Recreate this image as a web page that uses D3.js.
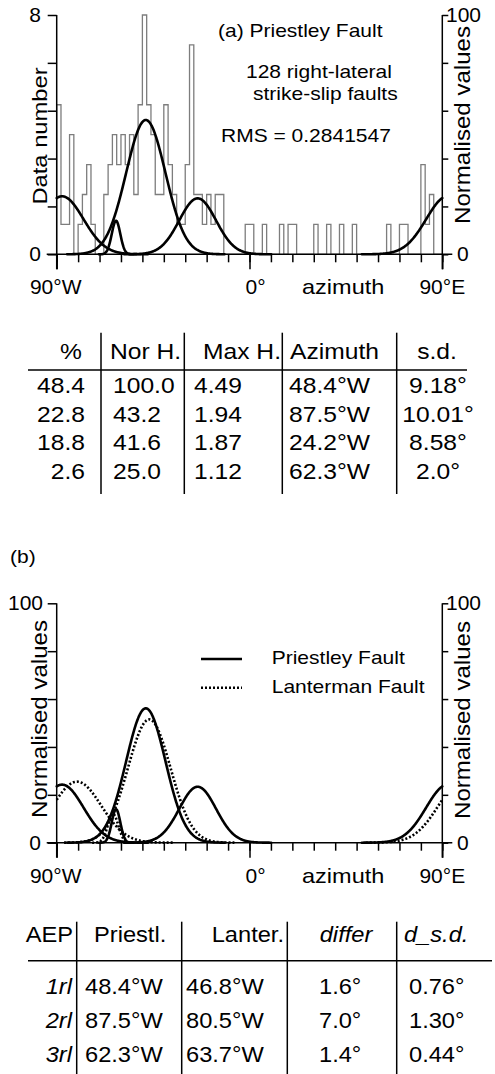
<!DOCTYPE html>
<html>
<head>
<meta charset="utf-8">
<script src="https://cdn.jsdelivr.net/npm/d3@7"></script>
<style>
  body { margin: 0; background: #fff; }
  svg { display: block; }
  text { font-family: "Liberation Sans", Arial, Helvetica, sans-serif; fill: #000; }
</style>
</head>
<body>
<svg id="fig" width="495" height="1074"></svg>
<script>
// ---- Histogram of fault azimuths (2° bins from 90°W to 90°E) ----
const binStart = -90;
const binWidth = 2;
const faultCounts = [
  5, 1, 1, 4, 0, 1, 2, 3, 1, 0,
  0, 2, 3, 4, 3, 4, 3, 4, 2, 5,
  8, 5, 4, 2, 2, 5, 3, 2, 1, 1,
  3, 7, 2, 2, 1, 2, 1, 2, 2, 0,
  0, 0, 0, 0, 1, 1, 0, 0, 1, 0,
  0, 0, 1, 0, 1, 1, 0, 0, 0, 0,
  1, 0, 0, 1, 0, 0, 1, 0, 0, 1,
  0, 0, 0, 0, 0, 0, 0, 1, 0, 0,
  1, 1, 0, 0, 0, 3, 1, 2, 0, 0
];

// ---- Fitted components, Priestley Fault (azimuth: negative = W) ----
const compPercent = ["48.4", "22.8", "18.8", "2.6"];
const compNorH = ["100.0", "43.2", "41.6", "25.0"];
const compMaxH = [4.49, 1.94, 1.87, 1.12];
const compAzimuth = [-48.4, -87.5, -24.2, -62.3];
const compSD = [9.18, 10.01, 8.58, 2.0];
const compSDLabel = ["9.18°", "10.01°", "8.58°", "2.0°"];

// ---- Lanterman Fault components (normalised heights) ----
const lantAzimuth = [-46.8, -80.5, -63.7];
const lantNorm = [51.5, 25.5, 12.0];
const lantSD = [9.94, 11.31, 2.44];

// ---- Comparison table ----
const aepNames = ["1rl", "2rl", "3rl"];
const aepPriestley = ["48.4°W", "87.5°W", "62.3°W"];
const aepLanterman = ["46.8°W", "80.5°W", "63.7°W"];
const aepDiffer = ["1.6°", "7.0°", "1.4°"];
const aepDsd = ["0.76°", "1.30°", "0.44°"];

const countMax = 8;                 // data-number value at the top of the frame
const normTicks = [0, 20, 40, 60, 80, 100];
const azTicks = d3.range(-90, 91, 10);
const azMajor = [-90, 0, 90];

const svg = d3.select("#fig");

function label(g, x, y, s, o = {}) {
  const size = o.size || 21;
  const sx = o.sx ?? 1.12;
  let tr = `translate(${x},${y})`;
  if (o.rotate) tr += ` rotate(${o.rotate})`;
  tr += ` scale(${sx},1)`;
  return g.append("text")
    .attr("transform", tr)
    .attr("font-size", size)
    .attr("text-anchor", o.anchor || "start")
    .attr("font-style", o.italic ? "italic" : null)
    .text(s);
}

// wrapped (axial) gaussian segments of one component, each limited to ±4 s.d.
function componentSegments(mu, h, sd) {
  const segs = [];
  [-180, 0, 180].forEach(shift => {
    const c = mu + shift;
    const a0 = Math.max(-90, c - 4 * sd), a1 = Math.min(90, c + 4 * sd);
    if (a1 <= a0) return;
    const pts = d3.range(a0, a1, 0.2).concat([a1])
      .map(a => [a, h * Math.exp(-((a - c) ** 2) / (2 * sd * sd))]);
    segs.push(pts);
  });
  return segs;
}

const xAz = d3.scaleLinear().domain([-90, 90]).range([56.7, 442.3]);

function styleAxis(sel) {
  sel.select(".domain").remove();
  sel.selectAll("line").attr("stroke", "#000").attr("stroke-width", 1.5);
}

function drawFrame(g, yLeft, leftTicks, yRight, base) {
  const [x0, x1] = xAz.range();
  // left and right vertical axes
  g.append("line").attr("x1", x0).attr("x2", x0)
    .attr("y1", yRight(100)).attr("y2", base + 15)
    .attr("stroke", "#000").attr("stroke-width", 1.5);
  g.append("line").attr("x1", x1).attr("x2", x1)
    .attr("y1", yRight(100)).attr("y2", base + 15)
    .attr("stroke", "#000").attr("stroke-width", 1.5);
  g.append("g").attr("transform", `translate(${x0},0)`)
    .call(d3.axisLeft(yLeft).tickValues(leftTicks).tickSize(9).tickSizeOuter(0).tickFormat(""))
    .call(styleAxis);
  g.append("g").attr("transform", `translate(${x1},0)`)
    .call(d3.axisRight(yRight).tickValues(normTicks).tickSize(6).tickSizeOuter(0).tickFormat(""))
    .call(styleAxis);
  // baseline and azimuth ticks
  g.append("line").attr("x1", x0 - 10).attr("x2", x1 + 10)
    .attr("y1", base).attr("y2", base)
    .attr("stroke", "#000").attr("stroke-width", 1.5);
  g.append("g").attr("transform", `translate(0,${base})`)
    .call(d3.axisBottom(xAz).tickValues(azTicks).tickSize(8).tickSizeOuter(0).tickFormat(""))
    .call(styleAxis);
  g.append("g").attr("transform", `translate(0,${base})`)
    .call(d3.axisBottom(xAz).tickValues(azMajor).tickSize(15).tickSizeOuter(0).tickFormat(""))
    .call(styleAxis);
  // azimuth labels
  const ly = base + 40;
  label(g, xAz(-90) - 1, ly, "90°W", { anchor: "middle", sx: 1.0 });
  label(g, xAz(0) - 4, ly, "0°", { sx: 1.0 });
  label(g, 302, ly, "azimuth");
  label(g, xAz(90), ly, "90°E", { anchor: "middle", sx: 1.0 });
}

const curve = d3.curveLinear;

// =================== (a) Priestley Fault ===================
const gA = svg.append("g");
const baseA = 254.3, topA = 15;
const yCount = d3.scaleLinear().domain([0, countMax]).range([baseA, topA]);
const yNormA = d3.scaleLinear().domain([0, 100]).range([baseA, topA]);

// histogram outline
const histPts = [[binStart, 0]];
faultCounts.forEach((c, i) => {
  const a = binStart + i * binWidth;
  histPts.push([a, c], [a + binWidth, c]);
});
histPts.push([binStart + faultCounts.length * binWidth, 0]);
gA.append("path")
  .attr("d", d3.line().x(d => xAz(d[0])).y(d => yCount(d[1]))(histPts))
  .attr("fill", "none").attr("stroke", "#7d7d7d").attr("stroke-width", 1.3);

// fitted components
const lineA = d3.line().curve(curve).x(d => xAz(d[0])).y(d => yCount(d[1]));
compAzimuth.forEach((mu, i) => {
  componentSegments(mu, compMaxH[i], compSD[i]).forEach(seg => {
    gA.append("path").attr("d", lineA(seg))
      .attr("fill", "none").attr("stroke", "#000").attr("stroke-width", 2.6)
      .attr("stroke-linejoin", "round").attr("stroke-linecap", "round");
  });
});

drawFrame(gA, yCount, normTicks.map(v => v * countMax / 100), yNormA, baseA);

label(gA, 41, yCount(8) + 7, "8", { anchor: "end", sx: 1.0 });
label(gA, 41, yCount(0) + 7, "0", { anchor: "end", sx: 1.0 });
label(gA, 446, yNormA(100) + 7, "100", { sx: 1.0 });
label(gA, 457, yNormA(0) + 7, "0", { sx: 1.0 });
label(gA, 46.7, 136, "Data number", { rotate: -90, anchor: "middle", sx: 1.13 });
label(gA, 470, 125, "Normalised values", { rotate: -90, anchor: "middle", size: 21.5, sx: 1.12 });

label(gA, 218, 36.7, "(a) Priestley Fault", { size: 18.6, sx: 1.13 });
label(gA, 246, 78.3, "128 right-lateral", { size: 18.6, sx: 1.13 });
label(gA, 253, 100, "strike-slip faults", { size: 18.6, sx: 1.13 });
label(gA, 221, 141.7, "RMS = 0.2841547", { size: 18.6, sx: 1.13 });

// ---- table (a) ----
const gTA = svg.append("g");
const tline = (g, x1, y1, x2, y2) => g.append("line")
  .attr("x1", x1).attr("y1", y1).attr("x2", x2).attr("y2", y2)
  .attr("stroke", "#000").attr("stroke-width", 1.5);
tline(gTA, 28, 370, 467, 370);
[101, 184.3, 282.3, 396.7].forEach(x => tline(gTA, x, 332.7, x, 494));
const TA = { size: 22, sx: 1.12 };
label(gTA, 71, 359.3, "%", { ...TA, anchor: "middle" });
label(gTA, 110, 359.3, "Nor H.", TA);
label(gTA, 203, 359.3, "Max H.", TA);
label(gTA, 290, 359.3, "Azimuth", TA);
label(gTA, 437, 359.3, "s.d.", { ...TA, anchor: "middle" });
const rowsA = [392.7, 421.5, 450.3, 479];
compPercent.forEach((p, i) => {
  const y = rowsA[i];
  label(gTA, 85, y, p, { ...TA, anchor: "end" });
  label(gTA, 113, y, compNorH[i], TA);
  label(gTA, 194, y, compMaxH[i].toFixed(2), TA);
  label(gTA, 289, y, `${Math.abs(compAzimuth[i]).toFixed(1)}°W`, TA);
  label(gTA, 438, y, compSDLabel[i], { ...TA, anchor: "middle" });
});

// =================== (b) Priestley vs Lanterman ===================
const gB = svg.append("g");
const baseB = 842.7, topB = 603.3;
const yNormB = d3.scaleLinear().domain([0, 100]).range([baseB, topB]);
const lineB = d3.line().curve(curve).x(d => xAz(d[0])).y(d => yNormB(d[1]));

label(gB, 10, 563, "(b)", { size: 18.6, sx: 1.13 });

compAzimuth.forEach((mu, i) => {
  componentSegments(mu, compMaxH[i] / countMax * 100, compSD[i]).forEach(seg => {
    gB.append("path").attr("d", lineB(seg))
      .attr("fill", "none").attr("stroke", "#000").attr("stroke-width", 2.6)
      .attr("stroke-linejoin", "round").attr("stroke-linecap", "round");
  });
});
lantAzimuth.forEach((mu, i) => {
  componentSegments(mu, lantNorm[i], lantSD[i]).forEach(seg => {
    gB.append("path").attr("d", lineB(seg))
      .attr("fill", "none").attr("stroke", "#000").attr("stroke-width", 2.6)
      .attr("stroke-dasharray", "2,2");
  });
});

drawFrame(gB, yNormB, normTicks, yNormB, baseB);

label(gB, 43, yNormB(100) + 7, "100", { anchor: "end", sx: 1.0 });
label(gB, 41, yNormB(0) + 7, "0", { anchor: "end", sx: 1.0 });
label(gB, 446, yNormB(100) + 7, "100", { sx: 1.0 });
label(gB, 457, yNormB(0) + 7, "0", { sx: 1.0 });
label(gB, 46.7, 719, "Normalised values", { rotate: -90, anchor: "middle", size: 21.5, sx: 1.12 });
label(gB, 470, 720, "Normalised values", { rotate: -90, anchor: "middle", size: 21.5, sx: 1.12 });

// legend
const legend = [
  { name: "Priestley Fault", y: 659, dash: null, ty: 664 },
  { name: "Lanterman Fault", y: 687.7, dash: "2,2", ty: 692.7 }
];
legend.forEach(l => {
  gB.append("line").attr("x1", 201).attr("x2", 242).attr("y1", l.y).attr("y2", l.y)
    .attr("stroke", "#000").attr("stroke-width", 2.6).attr("stroke-dasharray", l.dash);
  label(gB, 271.7, l.ty, l.name, { size: 18.6, sx: 1.13 });
});

// ---- table (b) ----
const gTB = svg.append("g");
tline(gTB, 28, 960.7, 492, 960.7);
[76.7, 181.7, 287.3, 396.7].forEach(x => tline(gTB, x, 921.7, x, 1074));
const TB = { size: 21.5, sx: 1.1 };
label(gTB, 73, 941.7, "AEP", { ...TB, anchor: "end" });
label(gTB, 94, 941.7, "Priestl.", TB);
label(gTB, 284, 941.7, "Lanter.", { ...TB, anchor: "end" });
label(gTB, 346, 941.7, "differ", { ...TB, anchor: "middle", italic: true });
label(gTB, 404, 941.7, "d_s.d.", { ...TB, italic: true });
const rowsB = [994.3, 1028.3, 1062.3];
aepNames.forEach((n, i) => {
  const y = rowsB[i];
  label(gTB, 72, y, n, { ...TB, anchor: "end", italic: true });
  label(gTB, 85, y, aepPriestley[i], TB);
  label(gTB, 186, y, aepLanterman[i], TB);
  label(gTB, 319, y, aepDiffer[i], TB);
  label(gTB, 409, y, aepDsd[i], TB);
});
</script>
</body>
</html>
